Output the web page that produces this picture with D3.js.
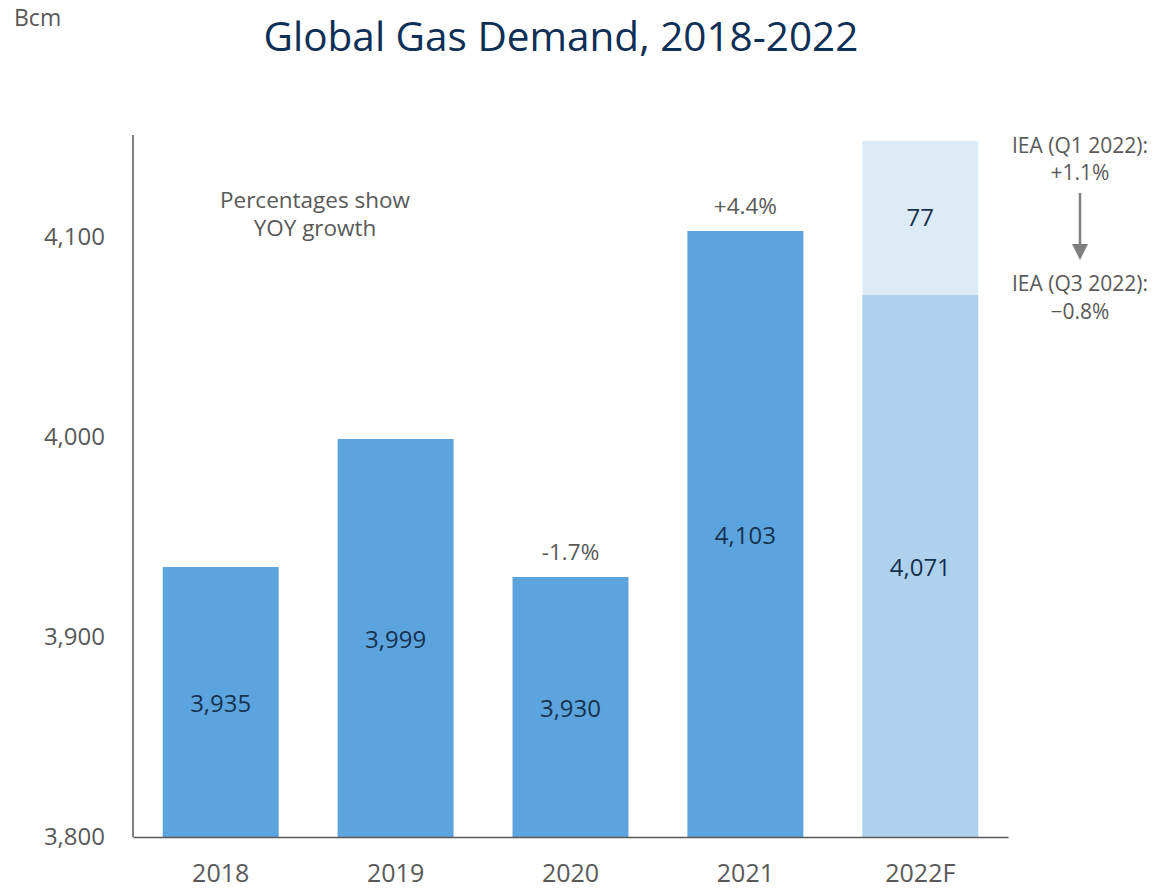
<!DOCTYPE html>
<html>
<head>
<meta charset="utf-8">
<script src="https://cdn.jsdelivr.net/npm/d3@7"></script>
<style>
  body { margin: 0; background: #fff; }
  text { font-family: "Open Sans", "Noto Sans", sans-serif; }
</style>
</head>
<body>
<div id="chart"></div>
<script>
// datos
var years = ['2018', '2019', '2020', '2021', '2022F'];
var demand = [3935, 3999, 3930, 4103, 4071];
var revision = [0, 0, 0, 0, 77];
var growth = ['', '', '-1.7%', '+4.4%', ''];
var yTicks = [3800, 3900, 4000, 4100];

const width = 1158;
const height = 891;

const svg = d3.select('#chart')
    .append('svg')
    .attr('width', width)
    .attr('height', height);

var x = d3.scaleBand()
    .domain(years)
    .range([133, 1008])
    .paddingInner(0.337)
    .paddingOuter(0.17);

var y = d3.scaleLinear()
    .domain([3800, 4151])
    .range([837, 135]);

// titulo
svg.append('text')
    .attr('x', 561).attr('y', 51)
    .attr('text-anchor', 'middle')
    .attr('font-size', 40.5)
    .attr('fill', '#0E2F56')
    .text('Global Gas Demand, 2018-2022');

svg.append('text')
    .attr('x', 14).attr('y', 26)
    .attr('font-size', 23)
    .attr('fill', '#595959')
    .text('Bcm');

// barras
svg.selectAll('rect.main')
    .data(demand)
    .enter()
    .append('rect')
    .attr('class', 'main')
    .attr('x', function(d, i) { return x(years[i]); })
    .attr('y', function(d) { return y(d); })
    .attr('width', x.bandwidth())
    .attr('height', function(d) { return y(3800) - y(d); })
    .attr('fill', function(d, i) { return years[i] == '2022F' ? '#AED1EE' : '#5CA4DD'; });

svg.selectAll('rect.rev')
    .data(revision)
    .enter()
    .filter(function(d) { return d > 0; })
    .append('rect')
    .attr('class', 'rev')
    .attr('x', function(d) { return x('2022F'); })
    .attr('y', function(d) { return y(demand[4] + d); })
    .attr('width', x.bandwidth())
    .attr('height', function(d) { return y(demand[4]) - y(demand[4] + d); })
    .attr('fill', '#DDEBF7');

// etiquetas de valores
svg.selectAll('text.val')
    .data(demand)
    .enter()
    .append('text')
    .attr('class', 'val')
    .attr('x', function(d, i) { return x(years[i]) + x.bandwidth() / 2; })
    .attr('y', function(d) { return (y(d) + y(3800)) / 2 + 2; })
    .attr('dy', '0.35em')
    .attr('text-anchor', 'middle')
    .attr('font-size', 24)
    .attr('fill', '#17324F')
    .text(function(d) { return d3.format(',')(d); });

svg.selectAll('text.rev')
    .data(revision)
    .enter()
    .filter(function(d) { return d > 0; })
    .append('text')
    .attr('class', 'rev')
    .attr('x', x('2022F') + x.bandwidth() / 2)
    .attr('y', function(d) { return (y(demand[4]) + y(demand[4] + d)) / 2; })
    .attr('dy', '0.35em')
    .attr('text-anchor', 'middle')
    .attr('font-size', 24)
    .attr('fill', '#17324F')
    .text(function(d) { return d; });

svg.selectAll('text.growth')
    .data(growth)
    .enter()
    .append('text')
    .attr('class', 'growth')
    .attr('x', function(d, i) { return x(years[i]) + x.bandwidth() / 2; })
    .attr('y', function(d, i) { return y(demand[i]) - 17; })
    .attr('text-anchor', 'middle')
    .attr('font-size', 22.5)
    .attr('fill', '#595959')
    .text(function(d) { return d; });

// ejes
var yAxis = svg.append('g')
    .attr('transform', 'translate(133,0)')
    .call(d3.axisLeft(y).tickValues(yTicks).tickSize(0).tickPadding(28).tickFormat(d3.format(',')));
yAxis.select('.domain').attr('stroke', '#595959').attr('stroke-width', 1.5)
    .attr('d', 'M0,' + y(4151) + 'V' + y(3800));
yAxis.selectAll('text').attr('font-size', 24).attr('fill', '#595959')
    .style('font-family', '"Open Sans", "Noto Sans", sans-serif');

var xAxis = svg.append('g')
    .attr('transform', 'translate(0,837)')
    .call(d3.axisBottom(x).tickSize(0).tickPadding(27));
xAxis.select('.domain').attr('stroke', '#595959').attr('stroke-width', 1.5);
xAxis.selectAll('text').attr('font-size', 25).attr('fill', '#595959')
    .style('font-family', '"Open Sans", "Noto Sans", sans-serif');

// notas
svg.append('text')
    .attr('x', 315).attr('y', 208)
    .attr('text-anchor', 'middle')
    .attr('font-size', 22.5)
    .attr('fill', '#595959')
    .text('Percentages show');
svg.append('text')
    .attr('x', 315).attr('y', 236)
    .attr('text-anchor', 'middle')
    .attr('font-size', 22.5)
    .attr('fill', '#595959')
    .text('YOY growth');

var notes = [['IEA (Q1 2022):', 153], ['+1.1%', 180], ['IEA (Q3 2022):', 291], ['\u22120.8%', 319]];
svg.selectAll('text.note')
    .data(notes)
    .enter()
    .append('text')
    .attr('class', 'note')
    .attr('x', 1080)
    .attr('y', function(d) { return d[1]; })
    .attr('text-anchor', 'middle')
    .attr('font-size', 21)
    .attr('fill', '#595959')
    .text(function(d) { return d[0]; });

svg.append('line')
    .attr('x1', 1080).attr('x2', 1080)
    .attr('y1', 193).attr('y2', 246)
    .attr('stroke', '#7F7F7F')
    .attr('stroke-width', 2.5);
svg.append('path')
    .attr('d', 'M1072,244 L1088,244 L1080,260 Z')
    .attr('fill', '#7F7F7F');
</script>
</body>
</html>
